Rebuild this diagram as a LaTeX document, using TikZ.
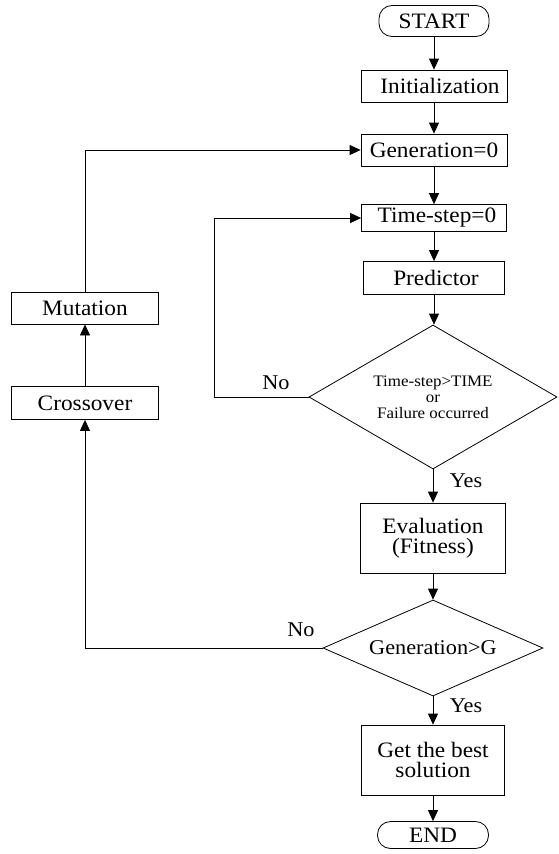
\documentclass[tikz,border=0pt]{standalone}
\usepackage{fontspec}
\setmainfont{Liberation Serif}[FakeStretch=1.06]
\usetikzlibrary{shapes.geometric,arrows.meta}
\begin{document}
\begin{tikzpicture}[x=1pt,y=-1pt,
  line width=0.8pt,
  box/.style={draw,rectangle,inner sep=0pt,font=\fontsize{22}{20}\selectfont,align=center},
  term/.style={box,rounded corners=13pt},
  dec/.style={draw,diamond,inner sep=0pt,align=center},
  arr/.style={-{Triangle[length=11pt,width=10pt]}},
  lab/.style={font=\fontsize{21}{20}\selectfont,inner sep=0pt}]
\useasboundingbox (0,0) rectangle (558,854);
\node[term,minimum width=110pt,minimum height=31pt] (start) at (434,21) {START};
\node[box,minimum width=146pt,minimum height=32pt] (init) at (434,86) {\hspace*{12pt}Initialization};
\node[box,minimum width=146pt,minimum height=32pt] (gen0) at (434,150) {Generation=0};
\node[box,minimum width=145pt,minimum height=27pt] (ts0) at (434,218) {\hspace*{6pt}Time-step=0};
\node[box,minimum width=141pt,minimum height=33pt] (pred) at (434,278) {\hspace*{4pt}Predictor};
\node[dec,minimum width=248pt,minimum height=144pt,aspect=1.72,
      font=\fontsize{16}{16}\selectfont] (d1) at (433,397) {Time-step>TIME\\or\\Failure occurred};
\node[box,minimum width=145pt,minimum height=70pt] (eval) at (433,538) {Evaluation\\(Fitness)};
\node[dec,minimum width=220pt,minimum height=96pt,aspect=2.29,
      font=\fontsize{21}{20}\selectfont] (d2) at (433,648) {Generation>G};
\node[box,minimum width=143pt,minimum height=70pt] (best) at (433,760) {Get the best\\solution};
\node[term,minimum width=111pt,minimum height=27pt] (end) at (433,835) {END};
\node[box,minimum width=147pt,minimum height=32pt] (mut) at (85,308) {Mutation};
\node[box,minimum width=147pt,minimum height=33pt] (cross) at (85,403) {Crossover};
\coordinate (lp) at (214,397);
\draw[arr] (start) -- (init);
\draw[arr] (init) -- (gen0);
\draw[arr] (gen0) -- (ts0);
\draw[arr] (ts0) -- (pred);
\draw[arr] (pred.south) -- (pred.south |- d1.north);
\draw[arr] (d1.south) -- (d1.south |- eval.north);
\draw[arr] (eval.south) -- (eval.south |- d2.north);
\draw[arr] (d2.south) -- (d2.south |- best.north);
\draw[arr] (best) -- (end);
\draw[arr] (d1.west) -- (lp) |- (ts0.west);
\draw[arr] (d2.west) -| (cross.south);
\draw[arr] (cross) -- (mut);
\draw[arr] (mut.north) |- (gen0.west);
\node[lab] (no1) at (276,383) {No};
\node[lab] (yes1) at (466,481) {Yes};
\node[lab] (no2) at (301,630) {No};
\node[lab] (yes2) at (466,706) {Yes};
\end{tikzpicture}
\end{document}
